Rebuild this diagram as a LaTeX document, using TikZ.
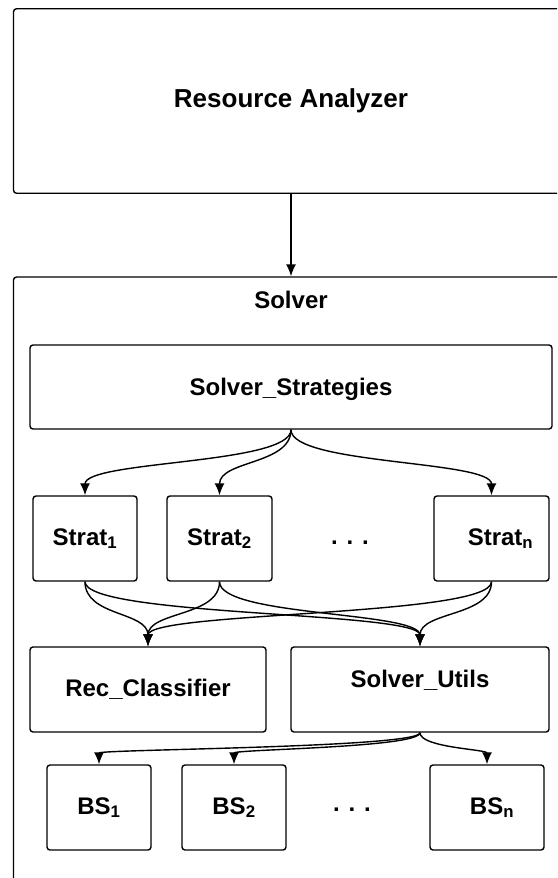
\documentclass[tikz,border=0pt]{standalone}
\usepackage{fontspec}
\setmainfont{Liberation Sans}
\usetikzlibrary{arrows.meta}

\begin{document}
\begin{tikzpicture}[x=1pt, y=-1pt,
	blk/.style={draw, line width=1.4pt, rounded corners=3pt, inner sep=0pt, font=\fontsize{24}{28}\selectfont\bfseries},
	lbl/.style={inner sep=0pt, font=\fontsize{24}{28}\selectfont\bfseries},
	conn/.style={line width=1.4pt, -{Latex[length=12pt,width=10pt]}}]
	\useasboundingbox (0,0) rectangle (557,878);
	\clip (0,0) rectangle (557,878);

	\node[blk, minimum width=555pt, minimum height=184.5pt, font=\fontsize{26}{30}\selectfont\bfseries] (ra) at (291,101) {Resource Analyzer};
	\node[blk, minimum width=555pt, minimum height=623pt] (solver) at (291,588.5) {};
	\node[lbl] (solvername) at (291,300) {Solver};
	\draw[conn] (ra.south) -- (solver.north);

	\node[blk, minimum width=522pt, minimum height=84pt, text depth=0pt] (strats) at (291,387) {Solver\_Strategies};

	\node[blk, minimum width=104pt, minimum height=85pt] (strat1) at (85,538.5) {Strat\textsubscript{1}};
	\node[blk, minimum width=105pt, minimum height=85pt] (strat2) at (219.5,538.5) {Strat\textsubscript{2}};
	\node[blk, minimum width=115pt, minimum height=85pt] (stratn) at (491.5,538.5) {\hspace*{18pt}Strat\textsubscript{n}};
	\node[lbl] (sdots) at (350,543) {. . .};

	\node[blk, minimum width=236pt, minimum height=85pt] (rec) at (148,689.5) {Rec\_Classifier};
	\node[blk, minimum width=258pt, minimum height=85pt, text depth=22pt] (utils) at (420,689.5) {Solver\_Utils};

	\node[blk, minimum width=104pt, minimum height=85pt] (bs1) at (99,807.5) {BS\textsubscript{1}};
	\node[blk, minimum width=104pt, minimum height=85pt] (bs2) at (234,807.5) {BS\textsubscript{2}};
	\node[blk, minimum width=114pt, minimum height=85pt] (bsn) at (487,807.5) {\hspace*{10pt}BS\textsubscript{n}};
	\node[lbl] (bdots) at (352,810) {. . .};

	\foreach \s in {strat1,strat2,stratn}
		\draw[conn] (strats.south) .. controls +(0,35) and +(0,-35) .. (\s.north);
	\foreach \s in {strat1,strat2,stratn}
		\foreach \t in {rec,utils}
			\draw[conn] (\s.south) .. controls +(0,35) and +(0,-35) .. (\t.north);
	\foreach \b in {bs1,bs2,bsn}
		\draw[conn] (utils.south) .. controls +(0,15) and +(0,-15) .. (\b.north);
\end{tikzpicture}
\end{document}
